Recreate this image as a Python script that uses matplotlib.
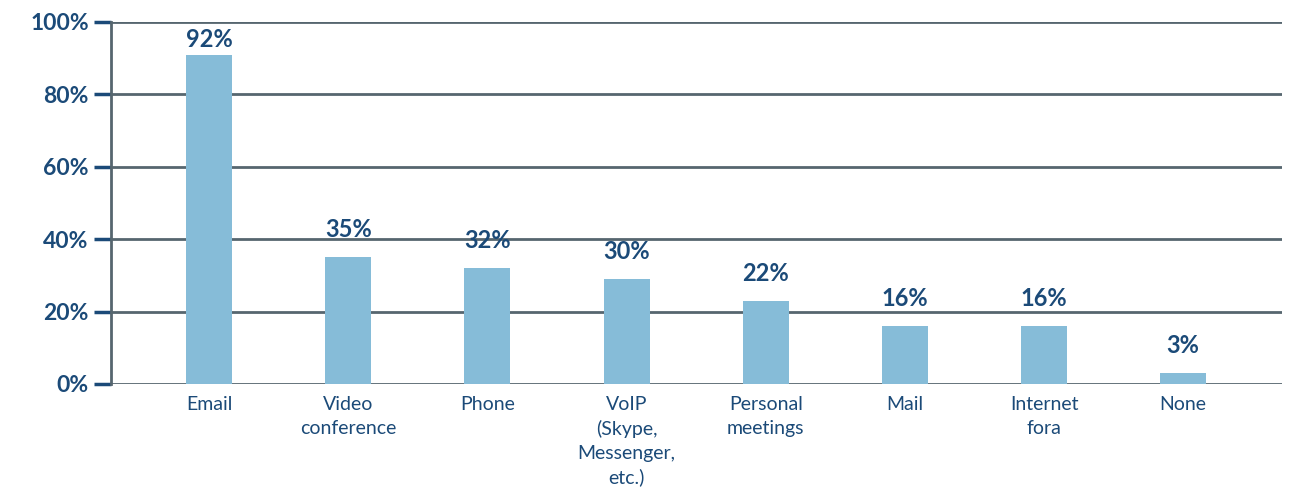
import matplotlib.pyplot as plt
from matplotlib.ticker import FuncFormatter

categories = ['Email', 'Video\nconference', 'Phone', 'VoIP\n(Skype,\nMessenger,\netc.)',
              'Personal\nmeetings', 'Mail', 'Internet\nfora', 'None']
heights = [91, 35, 32, 29, 23, 16, 16, 3]
labels = ['92%', '35%', '32%', '30%', '22%', '16%', '16%', '3%']

text_col = '#1b4a78'
grid_col = '#56666f'
bar_col = '#86bcd8'

plt.rcParams['font.family'] = ['Lato', 'DejaVu Sans']

fig = plt.figure(figsize=(12.93, 4.91), dpi=100)
ax = fig.add_axes([111/1293, 1 - 384/491, (1282 - 111)/1293, (384 - 22)/491])

x = range(len(categories))
ax.bar(x, heights, width=0.33, color=bar_col, zorder=3)
for i, (h, lab) in enumerate(zip(heights, labels)):
    # labels sit a bit above the bars, the tallest one is squeezed under the top line
    ax.text(i, min(h + 4.4, 92), lab, ha='center', va='bottom', fontsize=17,
            fontweight='bold', color=text_col)

ax.set_xlim(-0.705, 7.71)
ax.set_ylim(0, 100)
ax.set_yticks(range(0, 101, 20))
ax.yaxis.set_major_formatter(FuncFormatter(lambda v, p: f'{int(v)}%'))
ax.set_xticks(list(x))
ax.set_xticklabels(categories, fontsize=14, color=text_col, linespacing=1.45)
for t in ax.get_yticklabels():
    t.set_fontsize(16.5)
    t.set_fontweight('bold')
    t.set_color(text_col)

ax.grid(axis='y', color=grid_col, linewidth=2, zorder=1)
ax.tick_params(axis='y', length=12, width=2.5, color=text_col, pad=4)
ax.tick_params(axis='x', length=0, pad=9)
for side in ['top', 'right', 'bottom']:
    ax.spines[side].set_visible(False)
ax.spines['left'].set_color(grid_col)
ax.spines['left'].set_linewidth(2)

fig.savefig('out.png', dpi=100)
